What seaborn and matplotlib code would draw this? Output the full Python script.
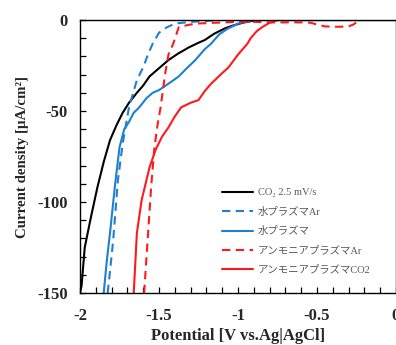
import matplotlib
matplotlib.use("Agg")
import matplotlib.pyplot as plt
import seaborn as sns
import pandas as pd
from matplotlib.ticker import MultipleLocator

# ---- data ----
co2_v = [-2.0, -1.99, -1.97, -1.93, -1.89, -1.85, -1.81, -1.77, -1.73, -1.69, -1.64, -1.60,
         -1.56, -1.50, -1.44, -1.38, -1.31, -1.25, -1.21, -1.15, -1.08, -1.03, -0.97, -0.94, -0.88, -0.5, 0.0]
co2_i = [-150, -146, -125, -108, -92, -78, -66, -58, -51, -45.5, -40, -36,
         -31, -26.5, -22, -18.5, -15, -12.5, -11, -7.5, -4.5, -3, -1.5, -1, 0, 0, 0]

wat_ar_v = [-1.825, -1.81, -1.79, -1.76, -1.73, -1.69, -1.67, -1.64, -1.60, -1.57, -1.54, -1.50,
            -1.45, -1.40, -1.35, -1.29, -1.2, -1.1, -0.5, 0.0]
wat_ar_i = [-150, -138, -121, -88, -68, -48, -42, -33, -26, -19, -13, -7,
            -4, -2, -1.5, -1, -0.5, 0, 0, 0]

wat_v = [-1.85, -1.83, -1.81, -1.78, -1.75, -1.72, -1.69, -1.66, -1.625, -1.58, -1.54, -1.50,
         -1.44, -1.375, -1.33, -1.27, -1.21, -1.17, -1.12, -1.07, -1.0, -0.96, -0.9, 0.0]
wat_i = [-150, -132, -117, -92, -70, -60, -56, -51, -48, -43, -40, -38.5,
         -35, -31, -27, -22, -16, -13, -8, -5, -2, -1, 0, 0]

amm_ar_v = [-1.594, -1.585, -1.575, -1.55, -1.53, -1.51, -1.49, -1.46, -1.44, -1.41, -1.375, -1.33,
            -1.27, -1.17, -1.0, -0.9, -0.79, -0.6, -0.54, -0.5, -0.45, -0.4, -0.35, -0.3, -0.27, -0.23, 0.0]
amm_ar_i = [-150, -138, -125, -92, -71, -58, -48, -29, -19, -13, -4, -3,
            -2, -1.6, -1, -1, -1.3, -1.3, -1.5, -2.5, -3.5, -3.7, -3.7, -3.5, -2.5, 0, 0]

amm_v = [-1.66, -1.64, -1.61, -1.56, -1.52, -1.48, -1.44, -1.40, -1.36, -1.30, -1.25, -1.21,
         -1.17, -1.11, -1.06, -1.0, -0.94, -0.92, -0.88, -0.84, -0.8, -0.775, -0.75, 0.0]
amm_i = [-150, -117, -99, -81, -71, -64, -59, -53, -48, -45.5, -44, -39,
         -35, -30, -26, -19, -13, -10, -6, -3.5, -1.5, -1, 0, 0]

labels = ["CO\u2082 2.5 mV/s", "水プラズマAr", "水プラズマ", "アンモニアプラズマAr", "アンモニアプラズマCO2"]
xticks = [-2, -1.5, -1, -0.5, 0]
xticklabels = ["-2", "-1.5", "-1", "-0.5", "0"]
yticks = [0, -50, -100, -150]
yticklabels = ["0", "-50", "-100", "-150"]

series = [(co2_v, co2_i), (wat_ar_v, wat_ar_i), (wat_v, wat_i), (amm_ar_v, amm_ar_i), (amm_v, amm_i)]
colors = ["#000000", "#1F7FD0", "#1F7FD0", "#FF1A1A", "#FF1A1A"]
styles = ["-", (0, (4, 2.6)), "-", (0, (4, 2.6)), "-"]

sns.set_theme(style="white")
serif_jp = ["Liberation Serif", "Noto Sans CJK JP", "DejaVu Sans"]
plt.rcParams["font.family"] = serif_jp

fig = plt.figure(figsize=(3.96, 3.45), dpi=100)
ax = fig.add_axes([80 / 396, 52 / 345, 316 / 396, 273 / 345])

for (v, i), lab, c, ls in zip(series, labels, colors, styles):
    df = pd.DataFrame({"V": v, "I": i})
    sns.lineplot(data=df, x="V", y="I", ax=ax, color=c, linestyle=ls, lw=1.5,
                 sort=False, estimator=None, label=lab)

ax.set_xlim(-2, 0)
ax.set_ylim(-150, 0)
ax.set_xticks(xticks)
ax.set_xticklabels(xticklabels)
ax.set_yticks(yticks)
ax.set_yticklabels(yticklabels)
ax.xaxis.set_minor_locator(MultipleLocator(0.1))
ax.yaxis.set_minor_locator(MultipleLocator(10))
ax.tick_params(which="both", direction="in", length=4, width=0.9, color="black",
               bottom=True, left=True, top=False, right=False)
ax.tick_params(axis="y", which="major", pad=9, labelsize=12)
ax.tick_params(axis="x", which="major", pad=11, labelsize=12)
for lbl in ax.get_xticklabels() + ax.get_yticklabels():
    lbl.set_fontweight("bold")
for s in ax.spines.values():
    s.set_color("black")
    s.set_linewidth(1.0)

ax.set_xlabel("Potential [V vs.Ag|AgCl]", fontsize=12, fontweight="bold", labelpad=3)
ax.set_ylabel("Current density [\u03bcA/cm\u00b2]", fontsize=10.7, fontweight="bold", labelpad=6)

leg = ax.legend(loc="upper left", bbox_to_anchor=(138 / 316, 1 - 164 / 273), frameon=False,
                fontsize=7.5, handlelength=3.0, handletextpad=0.4, labelspacing=0.9,
                borderaxespad=0)
for t in leg.get_texts():
    t.set_color("#595959")

fig.savefig("out.png", dpi=100)
